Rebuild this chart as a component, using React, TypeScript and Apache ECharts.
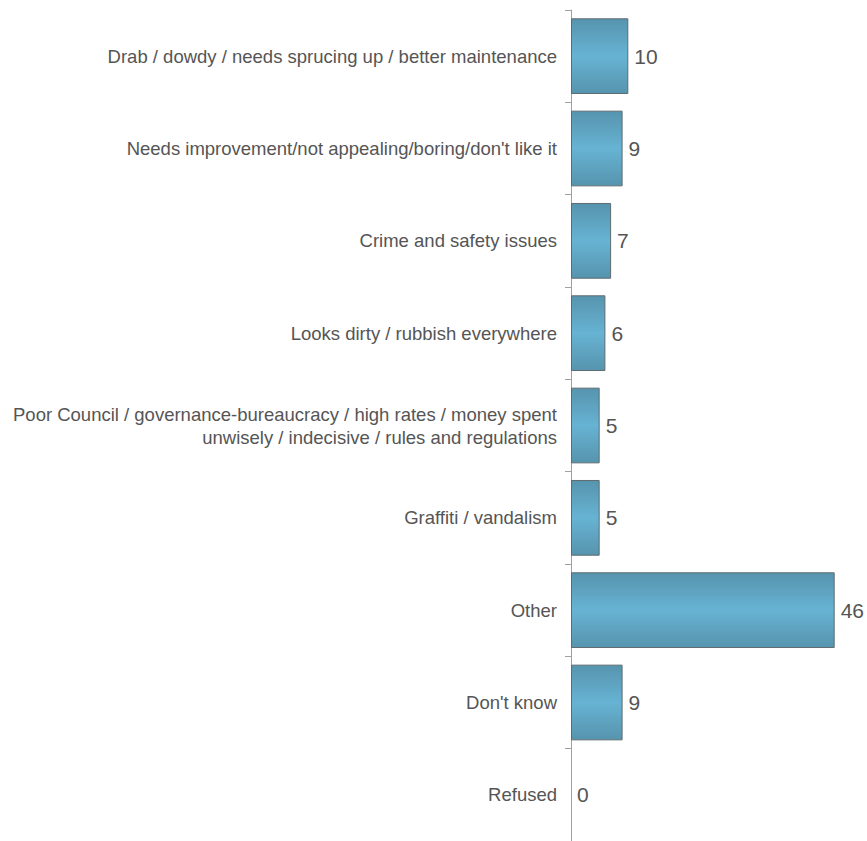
import React, { useEffect, useRef } from "react";
import * as echarts from "echarts";

const categories = [
  "Drab / dowdy / needs sprucing up / better maintenance",
  "Needs improvement/not appealing/boring/don't like it",
  "Crime and safety issues",
  "Looks dirty / rubbish everywhere",
  "Poor Council / governance-bureaucracy / high rates / money spent\nunwisely / indecisive / rules and regulations",
  "Graffiti / vandalism",
  "Other",
  "Don't know",
  "Refused",
];
const values = [10, 9, 7, 6, 5, 5, 46, 9, 0];

export default function App() {
  const ref = useRef<HTMLDivElement>(null);
  useEffect(() => {
    if (!ref.current) return;
    const chart = echarts.init(ref.current, null, { renderer: "svg" });
    chart.setOption({
      animation: false,
      grid: { left: 571, top: 10, width: 286.6, height: 835, containLabel: false },
      xAxis: {
        type: "value",
        min: 0,
        max: 50,
        show: false,
      },
      yAxis: {
        type: "category",
        inverse: true,
        data: categories,
        axisLine: { show: true, lineStyle: { color: "#a0a0a0", width: 1 } },
        axisTick: { show: true, length: 6, lineStyle: { color: "#a0a0a0" } },
        axisLabel: {
          margin: 14,
          color: "#555555",
          fontSize: 18.5,
          fontFamily: "Liberation Sans, Arial, sans-serif",
          align: "right",
          lineHeight: 23,
        },
        splitLine: { show: false },
      },
      series: [
        {
          type: "bar",
          data: values.map((v) => ({
            value: v,
            itemStyle: v === 0 ? { borderWidth: 0 } : undefined,
          })),
          barCategoryGap: "18%",
          itemStyle: {
            color: new echarts.graphic.LinearGradient(0, 0, 0, 1, [
              { offset: 0, color: "#5694ae" },
              { offset: 0.5, color: "#67b3d3" },
              { offset: 1, color: "#5694ae" },
            ]),
            borderColor: "#5e6b70",
            borderWidth: 1,
          },
          label: {
            show: true,
            position: "right",
            distance: 6,
            color: "#555555",
            fontSize: 21,
            fontFamily: "Liberation Sans, Arial, sans-serif",
          },
        },
      ],
    });
    return () => chart.dispose();
  }, []);
  return (
    <div
      ref={ref}
      style={{ position: "absolute", left: 0, top: 0, width: 867, height: 841 }}
    />
  );
}
